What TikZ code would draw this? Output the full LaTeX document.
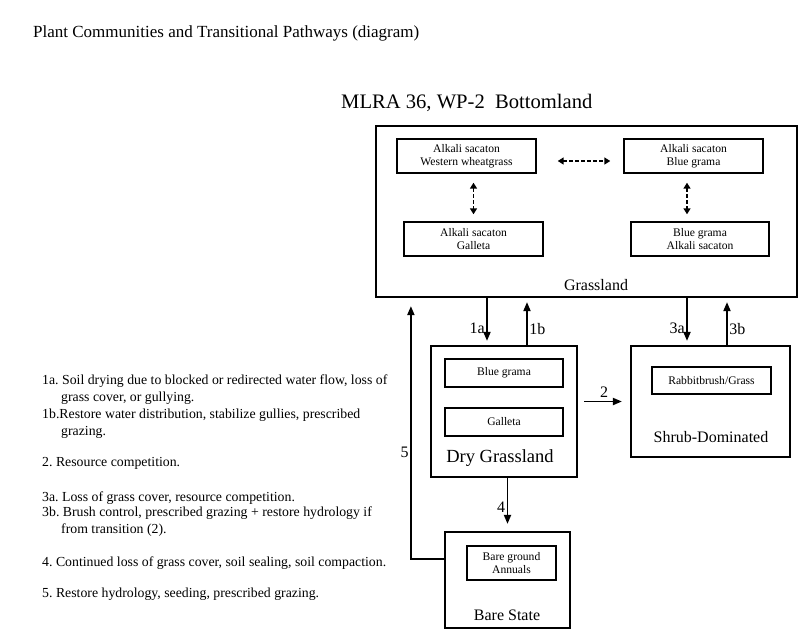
\documentclass[tikz,border=0pt]{standalone}
\usepackage{fontspec}
\setmainfont{Liberation Serif}
\usetikzlibrary{arrows.meta}

\begin{document}
\frenchspacing
\begin{tikzpicture}[
    x=1pt, y=-1pt,
    state/.style={
        rectangle,
        draw,
        line width=2.2pt,
        inner sep=0pt,
    },
    comm/.style={
        rectangle,
        draw,
        line width=1.4pt,
        inner sep=0pt,
        align=center,
        font=\fontsize{11.6}{12.5}\selectfont,
    },
    trans/.style={
        line width=1.8pt,
        -{Triangle[length=9pt,width=7pt]},
    },
    pathway/.style={
        line width=1.7pt,
        dash pattern=on 3.5pt off 2.5pt,
        {Triangle[length=6pt,width=7pt]}-{Triangle[length=6pt,width=7pt]},
    },
    lab/.style={
        font=\fontsize{16}{18}\selectfont,
        inner sep=1.5pt,
    },
    note/.style={
        anchor=base west,
        align=left,
        inner sep=0pt,
        font=\fontsize{13.8}{17}\selectfont,
    },
]
\useasboundingbox (0,0) rectangle (800,641);

\node[anchor=base west, inner sep=0pt, font=\fontsize{17}{19}\selectfont] (title) at (33,37)
    {Plant Communities and Transitional Pathways (diagram)};
\node[anchor=base west, inner sep=0pt, font=\fontsize{20.6}{22}\selectfont] (mlra) at (341,108)
    {MLRA 36, WP-2\ \ Bottomland};

% grassland state
\node[state, minimum width=421pt, minimum height=171pt] (grass) at (586.5,211.5) {};
\node[comm, minimum width=139pt, minimum height=34pt] (aww) at (466.5,156) {Alkali sacaton\\Western wheatgrass};
\node[comm, minimum width=139pt, minimum height=34pt] (abg) at (693.5,156) {Alkali sacaton\\Blue grama};
\node[comm, minimum width=139pt, minimum height=34pt] (agal) at (473.5,239) {Alkali sacaton\\Galleta};
\node[comm, minimum width=138pt, minimum height=34pt] (bgas) at (700,239) {Blue grama\\Alkali sacaton};
\node[lab] (grassT) at (596,285) {Grassland};

\draw[pathway, shorten <=21pt, shorten >=13pt] ([yshift=-5pt]aww.east) -- ([yshift=-5pt]abg.west);
\draw[pathway, shorten <=9pt, shorten >=7pt] (agal.north |- aww.south) -- (agal.north);
\draw[pathway, shorten <=9pt, shorten >=7pt] ([xshift=-6.5pt]abg.south) -- ([xshift=-6.5pt]abg.south |- bgas.north);

% dry grassland state
\node[state, minimum width=146pt, minimum height=131pt] (dry) at (504,411.5) {};
\node[comm, minimum width=118pt, minimum height=28pt] (bg) at (504,373) {Blue grama};
\node[comm, minimum width=118pt, minimum height=28pt] (gal) at (504,422) {Galleta};
\node[lab, font=\fontsize{18.5}{20}\selectfont] (dryT) at (500,458) {Dry Grassland};

% shrub state
\node[state, minimum width=159pt, minimum height=111pt] (shrub) at (710.5,401.5) {};
\node[comm, minimum width=119pt, minimum height=27pt] (rab) at (711.5,380.5) {Rabbitbrush/Grass};
\node[lab] (shrubT) at (711,437) {Shrub-Dominated};

% bare state
\node[state, minimum width=125pt, minimum height=96pt] (bare) at (507.5,580) {};
\node[comm, minimum width=89pt, minimum height=34pt] (bga) at (511.5,563) {Bare ground\\Annuals};
\node[lab] (bareT) at (507,615) {Bare State};

% transitions
\draw[trans, shorten >=4pt] ([xshift=-17pt]dry.north |- grass.south) -- ([xshift=-17pt]dry.north)
    node[lab, pos=.65, left] {1a};
\draw[trans, shorten >=4pt] ([xshift=23pt]dry.north) -- ([xshift=23pt]dry.north |- grass.south)
    node[lab, pos=.35, right] {1b};
\draw[trans, shorten >=4pt] ([xshift=-23.5pt]shrub.north |- grass.south) -- ([xshift=-23.5pt]shrub.north)
    node[lab, pos=.65, left] {3a};
\draw[trans, shorten >=4pt] ([xshift=16.5pt]shrub.north) -- ([xshift=16.5pt]shrub.north |- grass.south)
    node[lab, pos=.35, right] {3b};
\draw[trans, shorten <=6pt, shorten >=8pt] (dry.east |- shrub.west) -- (shrub.west)
    node[lab, midway, above=2pt] {2};
\draw[trans, shorten >=7pt] (bare.north |- dry.south) -- (bare.north)
    node[lab, pos=.55, left] {4};
\draw[trans, shorten >=8pt] ([yshift=21pt]bare.west) -| ([xshift=-19pt]dry.north west |- grass.south)
    node[lab, pos=.705, left] {5};

% notes
\node[note] (n1) at (42,401) {1a. Soil drying due to blocked or redirected water flow, loss of\\\hspace*{19pt}grass cover, or gullying.};
\node[note] (n2) at (42,435) {1b.Restore water distribution, stabilize gullies, prescribed\\\hspace*{19pt}grazing.};
\node[note] (n3) at (42,466) {2. Resource competition.};
\node[note] (n4) at (42,501) {3a. Loss of grass cover, resource competition.};
\node[note] (n5) at (42,533) {3b. Brush control, prescribed grazing + restore hydrology if\\\hspace*{19pt}from transition (2).};
\node[note] (n6) at (42,566) {4. Continued loss of grass cover, soil sealing, soil compaction.};
\node[note] (n7) at (42,597) {5. Restore hydrology, seeding, prescribed grazing.};

\end{tikzpicture}
\end{document}
